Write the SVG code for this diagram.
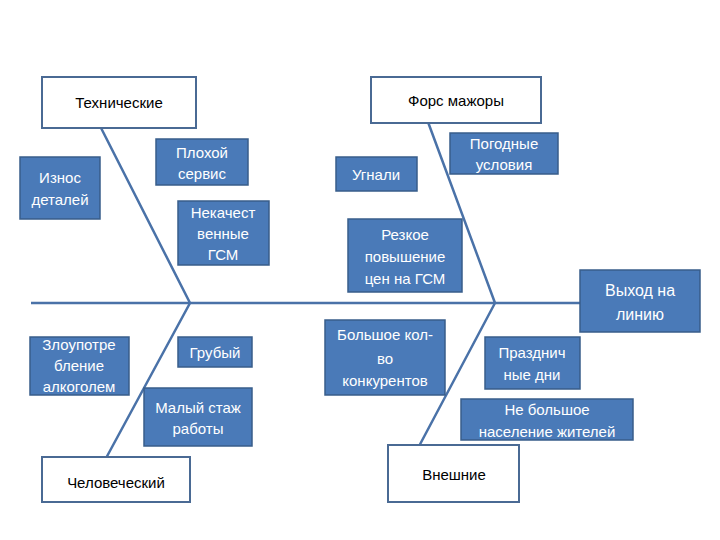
<svg xmlns="http://www.w3.org/2000/svg" width="720" height="540" viewBox="0 0 720 540">
<style>
.w{fill:#fff;stroke:#4a6a94;stroke-width:2}
.b{fill:#4a7ab8;stroke:#385d8a;stroke-width:1.5}
.tw{font-family:"Liberation Sans",Arial,sans-serif;font-size:15px;fill:#fff;text-anchor:middle}
.tk{font-family:"Liberation Sans",Arial,sans-serif;font-size:15px;fill:#000;text-anchor:middle}
.l{stroke:#4a72a8;stroke-width:2.5;fill:none}
</style>
<rect width="720" height="540" fill="#fff"/>
<g id="connectors">
<line class="l" x1="31" y1="303" x2="582" y2="303"/>
<polyline class="l" points="98,122 190,303 105,460"/>
<polyline class="l" points="428,122 495,303 417,450"/>
</g>
<g id="n1"><rect class="w" x="42" y="77" width="154" height="51"/><text class="tk" x="119" y="108">Технические</text></g>
<g id="n2"><rect class="w" x="371" y="77" width="170" height="46"/><text class="tk" x="456" y="106">Форс мажоры</text></g>
<g id="n3"><rect class="w" x="42" y="457" width="148" height="45"/><text class="tk" x="116" y="488">Человеческий</text></g>
<g id="n4"><rect class="w" x="388" y="445" width="131" height="57"/><text class="tk" x="454" y="480">Внешние</text></g>
<g id="n5"><rect class="b" x="20" y="157" width="80" height="62"/><text class="tw" x="60" y="183">Износ</text><text class="tw" x="60" y="205">деталей</text></g>
<g id="n6"><rect class="b" x="156" y="139" width="92" height="46"/><text class="tw" x="202" y="158">Плохой</text><text class="tw" x="202" y="179">сервис</text></g>
<g id="n7"><rect class="b" x="178" y="201" width="91" height="64"/><text class="tw" x="223" y="218">Некачест</text><text class="tw" x="223" y="239">венные</text><text class="tw" x="223" y="260">ГСМ</text></g>
<g id="n8"><rect class="b" x="30" y="337" width="99" height="58"/><text class="tw" x="79" y="350">Злоупотре</text><text class="tw" x="79" y="371">бление</text><text class="tw" x="79" y="392">алкоголем</text></g>
<g id="n9"><rect class="b" x="178" y="337" width="74" height="30"/><text class="tw" x="215" y="358">Грубый</text></g>
<g id="n10"><rect class="b" x="144" y="388" width="108" height="58"/><text class="tw" x="198" y="413">Малый стаж</text><text class="tw" x="198" y="434">работы</text></g>
<g id="n11"><rect class="b" x="450" y="133" width="108" height="41"/><text class="tw" x="504" y="149">Погодные</text><text class="tw" x="504" y="170">условия</text></g>
<g id="n12"><rect class="b" x="336" y="157" width="81" height="34"/><text class="tw" x="376" y="180">Угнали</text></g>
<g id="n13"><rect class="b" x="348" y="219" width="114" height="73"/><text class="tw" x="405" y="240">Резкое</text><text class="tw" x="405" y="262">повышение</text><text class="tw" x="405" y="284">цен на ГСМ</text></g>
<g id="n14"><rect class="b" x="580" y="270" width="120" height="62"/><text class="tw" x="640" y="296" style="font-size:16px">Выход на</text><text class="tw" x="640" y="320" style="font-size:16px">линию</text></g>
<g id="n15"><rect class="b" x="325" y="320" width="120" height="75"/><text class="tw" x="385" y="340">Большое кол-</text><text class="tw" x="385" y="364">во</text><text class="tw" x="385" y="386">конкурентов</text></g>
<g id="n16"><rect class="b" x="485" y="337" width="95" height="52"/><text class="tw" x="532" y="358">Празднич</text><text class="tw" x="532" y="380">ные дни</text></g>
<g id="n17"><rect class="b" x="461" y="399" width="172" height="41"/><text class="tw" x="547" y="415">Не большое</text><text class="tw" x="547" y="437">население жителей</text></g>
</svg>
